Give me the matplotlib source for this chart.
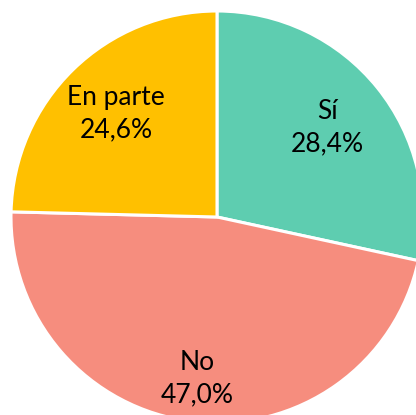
import numpy as np
import matplotlib.pyplot as plt

# ---- DATA ----
labels = ["Sí", "No", "En parte"]
values = [28.4, 47.0, 24.6]
colors = ["#5ECDB0", "#F68D7E", "#FFC000"]

# label distance from center (fraction of radius) for each slice
label_r = [0.69, 0.79, 0.70]

W, H = 416, 415
cx, cy, R = 217, 217, 206  # pixels, from top-left

fig = plt.figure(figsize=(W / 100, H / 100), dpi=100)
ax = fig.add_axes([0, 0, 1, 1])

wedges, _ = ax.pie(values, colors=colors, startangle=90, counterclock=False,
                   wedgeprops={"linewidth": 2.2, "edgecolor": "white"})

for w, lab, val, r in zip(wedges, labels, values, label_r):
    ang = np.deg2rad((w.theta1 + w.theta2) / 2)
    ax.text(r * np.cos(ang), r * np.sin(ang),
            f"{lab}\n{val:.1f}%".replace(".", ","),
            ha="center", va="center", fontsize=19, family="Lato",
            color="black", linespacing=1.4)

ax.set_xlim(-cx / R, (W - cx) / R)
ax.set_ylim(-(H - cy) / R, cy / R)
ax.set_aspect("auto")
ax.axis("off")

plt.savefig("out.png", dpi=100)
plt.close()
